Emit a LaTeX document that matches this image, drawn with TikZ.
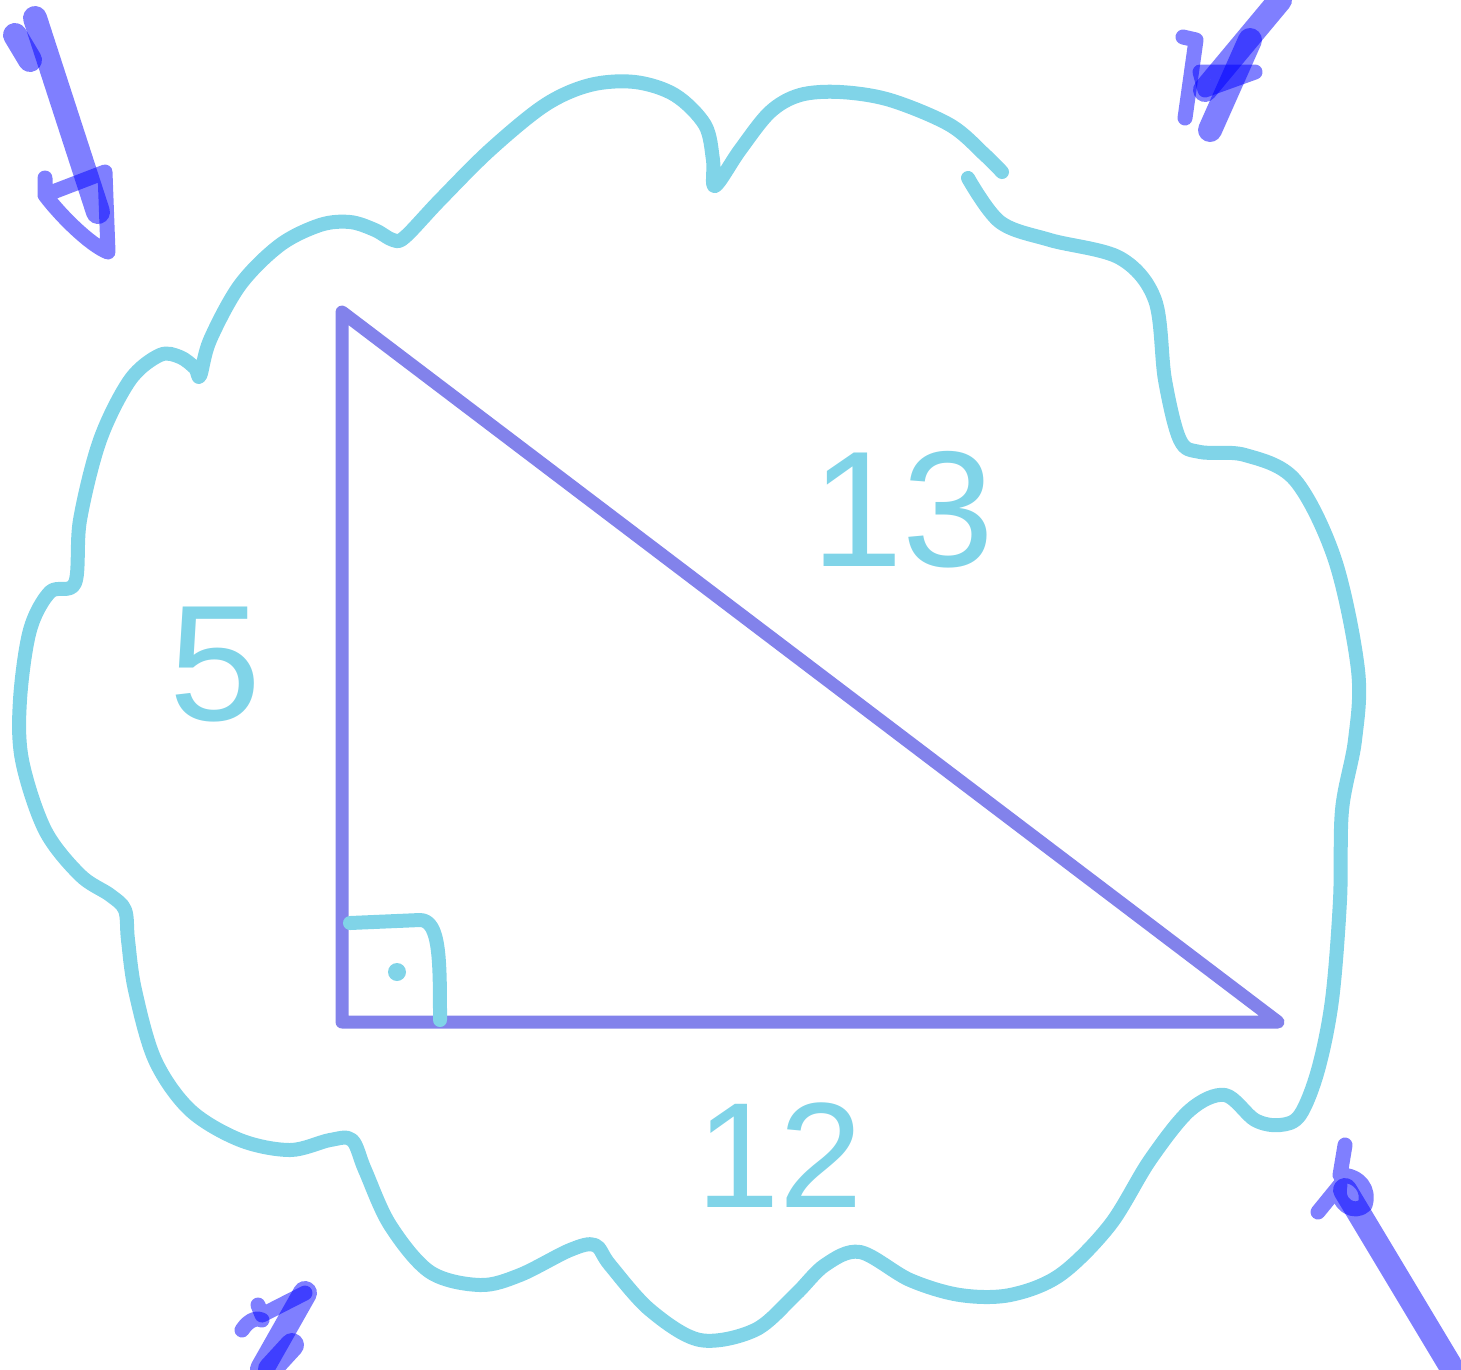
\documentclass[tikz,border=0pt]{standalone}
\usepackage{fontspec}
\setmainfont{Liberation Sans}
\definecolor{cloudc}{RGB}{128,212,232}
\definecolor{tric}{RGB}{130,130,235}
\begin{document}
\begin{tikzpicture}[x=1pt,y=-1pt,
  cloudline/.style={draw=cloudc,line width=14pt,line cap=round,line join=round},
  triline/.style={draw=tric,line width=13pt,line cap=round,line join=round},
  shaft/.style={draw=blue,opacity=0.5,line width=24pt,line cap=round,line join=round},
  headline/.style={draw=blue,opacity=0.5,line width=15pt,line cap=round,line join=round},
  lbl/.style={text=cloudc,font=\fontsize{165}{165}\selectfont,inner sep=0pt}]
\useasboundingbox (0,0) rectangle (1461,1369);
% cloud
\draw[cloudline] plot[smooth,tension=0.55] coordinates {
(968,178) (1000,222) (1050,240) (1120,258) (1155,300) (1165,380) (1180,440) (1200,452)
(1245,455) (1295,480) (1335,560) (1358,670) (1355,740) (1342,810) (1340,900) (1332,1000)
(1318,1070) (1300,1115) (1280,1125) (1255,1120) (1225,1095) (1190,1110) (1150,1160)
(1110,1225) (1060,1275) (1010,1295) (960,1295) (910,1280) (860,1252) (825,1265) (795,1295)
(755,1330) (700,1340) (650,1310) (610,1265) (595,1245) (570,1250) (520,1275) (480,1285)
(430,1272) (390,1225) (365,1170) (352,1140) (330,1140) (290,1150) (240,1140) (190,1110)
(155,1060) (135,990) (128,940) (125,910) (110,895) (80,875) (45,830) (22,760) (20,700)
(30,630) (50,592) (75,583) (80,520) (100,440) (130,380) (160,355) (180,357) (195,368)
(200,376) (210,340) (240,285) (280,245) (320,225) (350,222) (375,230) (393,240) (405,237)
(440,200) (490,150) (545,105) (590,85) (635,82) (675,95) (705,125) (713,160) (715,186)
(740,150) (770,112) (800,95) (840,92) (890,100) (950,125) (985,155) (1002,172)};
% triangle
\coordinate (A) at (342,312);
\coordinate (B) at (342,1022);
\coordinate (C) at (1278,1022);
\draw[triline] (A) -- (B) -- (C) -- cycle;
% right angle mark
\coordinate (r1) at (350,923);
\coordinate (r2) at (440,1020);
\draw[cloudline] (r1) -- (420,920) .. controls (440,920) and (440,960) .. (r2);
\fill[cloudc] (397,972) circle (9pt);
% labels
\node[lbl] (five) at (215,665) {5};
\node[lbl] (thirteen) at (903,510) {13};
\node[lbl,font=\fontsize{150}{150}\selectfont] (twelve) at (780,1155) {12};
% arrow top-left
\coordinate (tl0) at (35,18);
\coordinate (tl1) at (98,212);
\draw[shaft] (tl0) -- (tl1);
\draw[shaft] (15,35) -- (30,60);
\draw[headline] (45,178) -- (45,195) -- (105,172) -- (108,252) .. controls (90,245) and (60,215) .. (45,195);
% arrow top-right
\coordinate (tr0) at (1280,0);
\coordinate (tr1) at (1205,90);
\draw[shaft] (tr0) -- (tr1);
\draw[shaft] (1250,40) -- (1210,130);
\draw[headline] (1183,37) -- (1196,40) -- (1185,118);
\draw[headline] (1205,90) -- (1200,72) -- (1255,72) -- (1205,90);
% arrow bottom-right
\coordinate (br0) at (1450,1365);
\coordinate (br1) at (1345,1190);
\draw[shaft] (br0) -- (br1);
\draw[headline] (1345,1145) -- (1340,1175) .. controls (1360,1175) and (1370,1190) .. (1365,1205)
  .. controls (1355,1215) and (1335,1205) .. (1340,1185) -- (1318,1212);
% arrow bottom-left
\coordinate (bl0) at (262,1369);
\coordinate (bl1) at (305,1293);
\draw[shaft] (bl0) -- (bl1);
\draw[shaft] (270,1369) -- (292,1345);
\draw[headline] (258,1305) -- (262,1315) -- (305,1293);
\draw[headline] (242,1330) .. controls (250,1318) and (258,1318) .. (262,1320);
\end{tikzpicture}
\end{document}
